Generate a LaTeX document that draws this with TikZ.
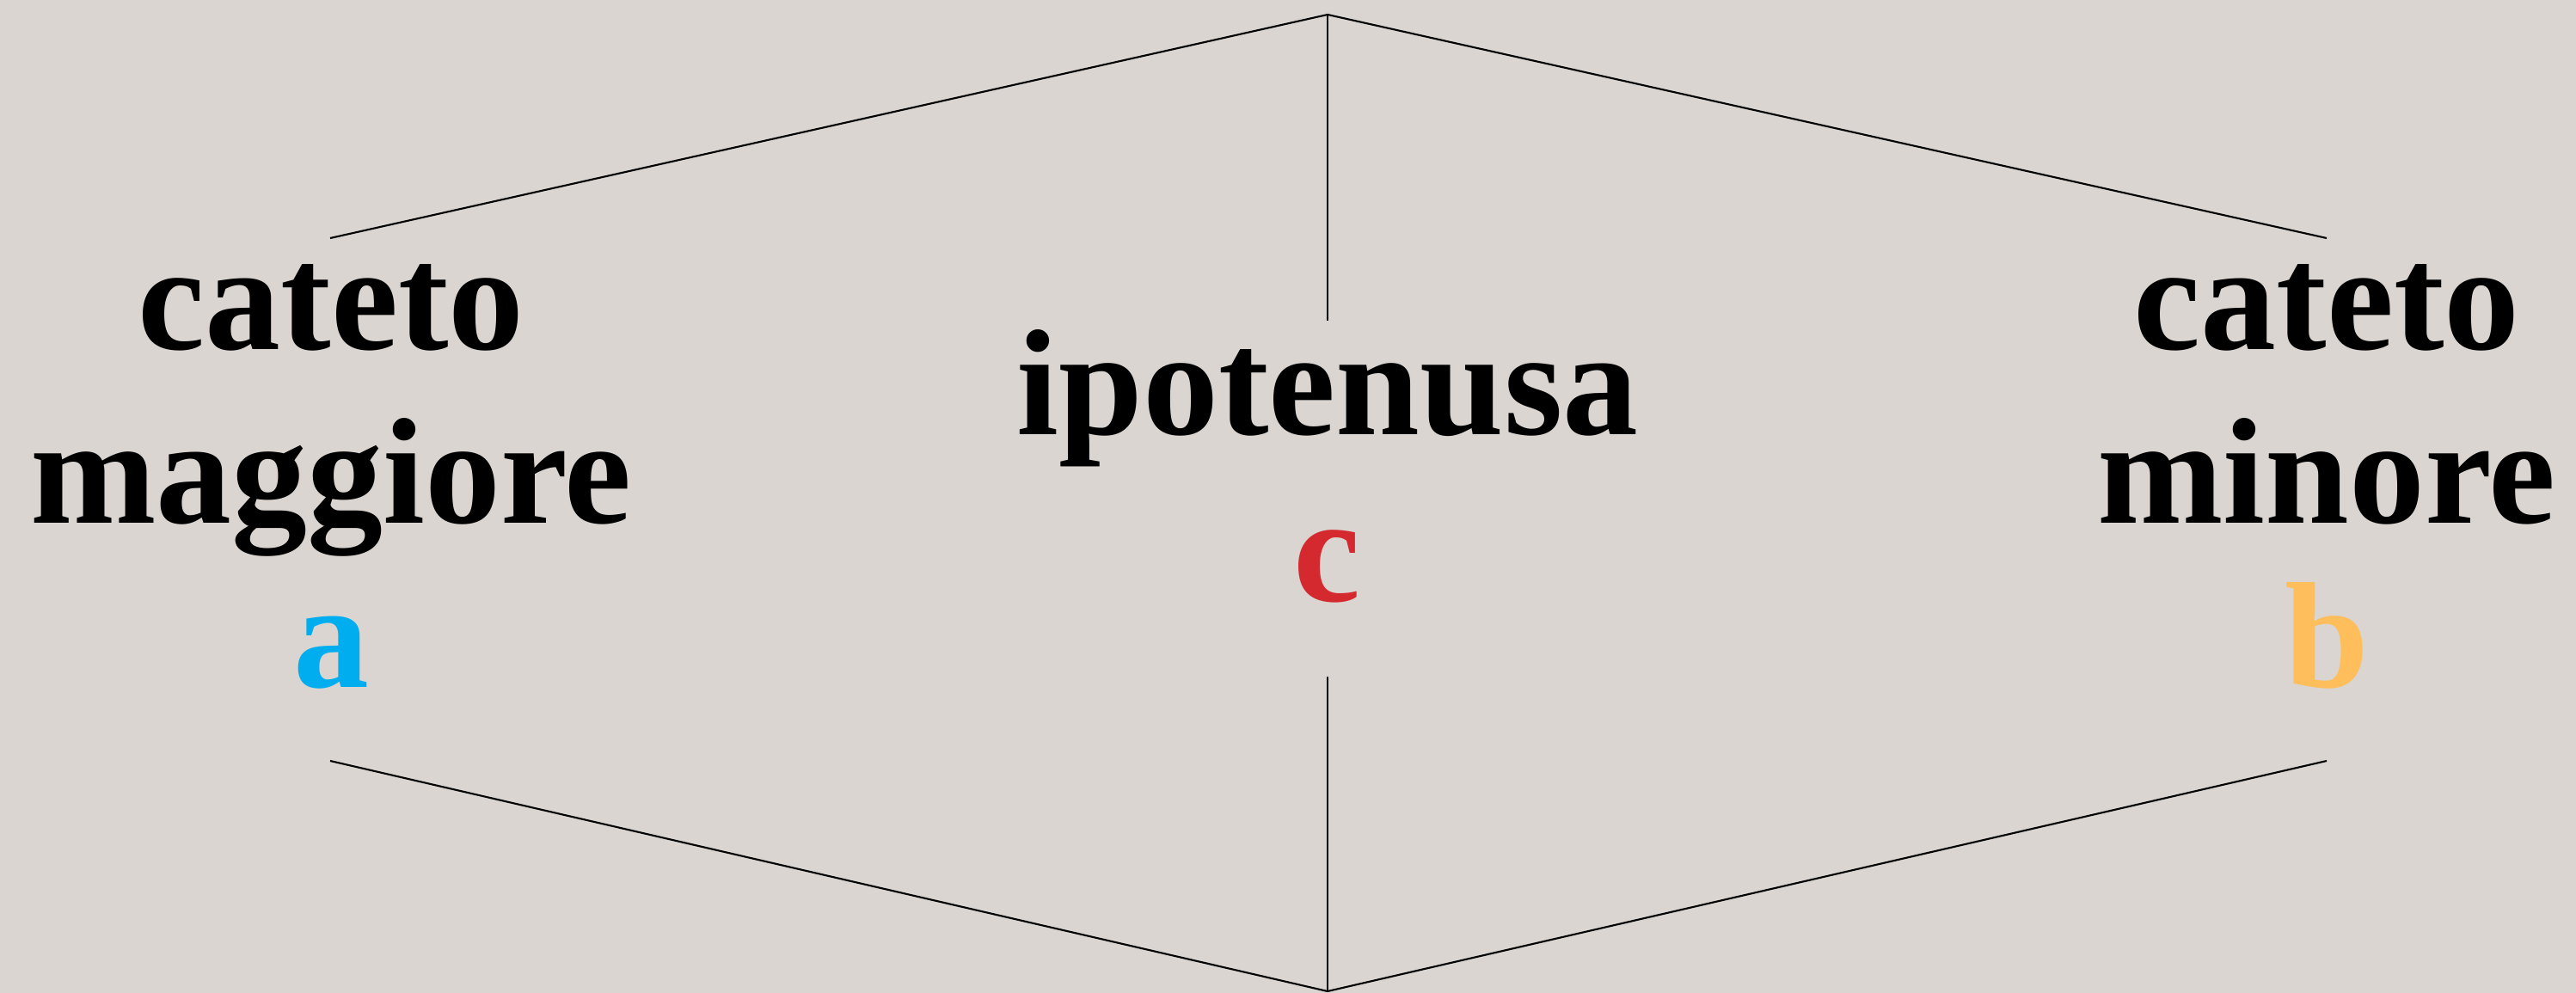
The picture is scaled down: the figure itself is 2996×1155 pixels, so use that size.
\documentclass[tikz,border=0pt]{standalone}
\usepackage{fontspec}
\setmainfont{Liberation Serif}
\usepackage{tikz}
\usetikzlibrary{positioning}
\usepackage{xcolor}
\definecolor{paper}{HTML}{DAD5D1}
\definecolor{legblue}{HTML}{00AEEF}
\definecolor{hypred}{HTML}{D42A2F}
\definecolor{legorange}{HTML}{FDBE5B}

\begin{document}
\begin{tikzpicture}[
    x=0.01cm, y=-0.01cm,
    word/.style={anchor=base, inner sep=0pt, font=\fontsize{50}{60}\selectfont\bfseries},
    rule/.style={draw=black, line width=0.6pt}
]

% === CANVAS ===
\fill[paper] (0,0) rectangle (2996,1155);
\useasboundingbox (0,0) rectangle (2996,1155);

% === FRAME POINTS ===
\coordinate (topapex) at (1544,17);
\coordinate (topleft) at (384,277);
\coordinate (topright) at (2706,277);
\coordinate (topstem) at (1544,373);
\coordinate (botapex) at (1544,1153);
\coordinate (botleft) at (384,885);
\coordinate (botright) at (2706,885);
\coordinate (botstem) at (1544,787);

% === LEFT LEG ===
\node[word] (catetoA) at (385,407) {cateto};
\node[word, below=2.01cm of catetoA.base, anchor=base] (maggiore) {maggiore};
\node[word, below=1.91cm of maggiore.base, anchor=base, color=legblue] (legA) {a};

% === HYPOTENUSE ===
\node[word] (ipotenusa) at (1544,506) {ipotenusa};
\node[word, below=1.93cm of ipotenusa.base, anchor=base, color=hypred] (hypC) {c};

% === RIGHT LEG ===
\node[word] (catetoB) at (2706,407) {cateto};
\node[word, below=2.01cm of catetoB.base, anchor=base] (minore) {minore};
\node[word, below=1.91cm of minore.base, anchor=base, color=legorange] (legB) {b};

% === LINES ===
\draw[rule] (topleft) -- (topapex) -- (topright);
\draw[rule] (topapex) -- (topstem);
\draw[rule] (botleft) -- (botapex) -- (botright);
\draw[rule] (botstem) -- (botapex);

\end{tikzpicture}
\end{document}
